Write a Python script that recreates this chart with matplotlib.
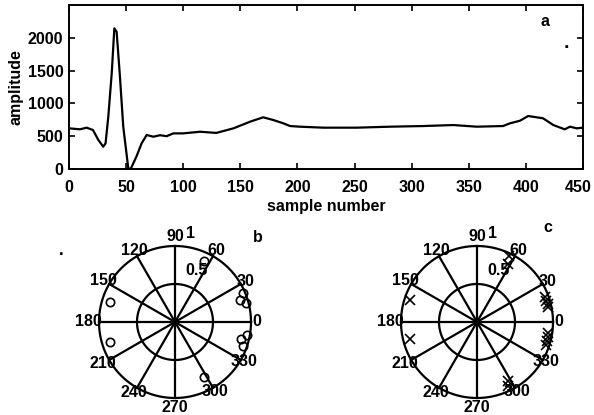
import numpy as np
import matplotlib
matplotlib.use("Agg")
import matplotlib.pyplot as plt
import matplotlib.transforms as mtransforms

plt.rcParams['font.family'] = ['Liberation Sans', 'DejaVu Sans']

# ---- data: signal (panel a) ----
sample = [0, 9.6, 15.5, 21, 25.7, 30, 32, 34.4, 37.4, 39.7, 41.7, 44.6, 47.5, 51.9, 54,
          59, 63.6, 68, 73.8, 79.7, 85.5, 91.3, 100, 114.7, 129, 144, 158.5, 170, 178.8,
          187.7, 193.5, 202, 222.6, 251.9, 281, 310, 336.5, 357, 380, 386, 394.8, 402,
          415, 424, 434, 438.6, 444.5, 449.7]
amplitude = [620, 605, 630, 594, 442, 340, 390, 797, 1458, 2144, 2092, 1407, 645, 10, 0,
             188, 392, 518, 492, 515, 500, 543, 543, 568, 550, 620, 721, 788, 747,
             696, 655, 645, 630, 630, 645, 655, 670, 645, 655, 696, 736, 808,
             773, 670, 605, 645, 620, 630]

x_ticks = [0, 50, 100, 150, 200, 250, 300, 350, 400, 450]
y_ticks = [0, 500, 1000, 1500, 2000]

# ---- data: polar panels ----
b_angle_deg = [65, 23, 19, 15, -10, -14, -19, -62, 163, 197]
b_radius = [0.89, 0.97, 0.90, 0.97, 0.96, 0.90, 0.95, 0.82, 0.89, 0.89]

c_angle_deg = [62, 64, 20, 17, 14, 12, -9, -12, -15, -18, -62, -64, 162, 194]
c_radius = [0.87, 0.96, 0.95, 0.95, 0.96, 0.95, 0.95, 0.96, 0.95, 0.96, 0.88, 0.93, 0.93, 0.91]

spoke_angles = [0, 30, 60, 90, 120, 150, 180, 210, 240, 270, 300, 330]
ring_radii = [0.5, 1.0]
angle_labels = ['0', '30', '60', '90', '120', '150', '180', '210', '240', '270', '300', '330']
label_radius = [1.07, 1.07, 1.09, 1.12, 1.08, 1.09, 1.14, 1.10, 1.07, 1.13, 1.06, 1.05]

fig = plt.figure(figsize=(5.94, 4.15), dpi=100)

FS = 11.5
FW = 'bold'
LW = 1.6

# ---- panel a ----
ax = fig.add_axes([69/594, 1-169/415, 514/594, 164/415])
ax.plot(sample, amplitude, color='black', lw=LW)
ax.set_xlim(0, 450)
ax.set_ylim(0, 2500)
ax.set_xticks(x_ticks)
ax.set_yticks(y_ticks)
ax.tick_params(direction='in', top=True, right=True, length=4, width=1.2, labelsize=FS)
ax.tick_params(axis='x', pad=8)
ax.tick_params(axis='y', pad=4)
for lab in ax.get_xticklabels() + ax.get_yticklabels():
    lab.set_fontweight(FW)
# keep the last x tick label inside the figure edge
last = ax.get_xticklabels()[-1]
last.set_transform(last.get_transform() +
                   mtransforms.ScaledTranslation(-5/100, 0, fig.dpi_scale_trans))
for s in ax.spines.values():
    s.set_linewidth(1.4)
ax.set_xlabel('sample number', fontsize=FS, fontweight=FW, labelpad=3)
ax.set_ylabel('amplitude', fontsize=FS, fontweight=FW, labelpad=3)
fig.text(545/594, 1-22/415, 'a', fontsize=FS, fontweight=FW, ha='center', va='center')
fig.text(566/594, 1-44/415, '.', fontsize=14, ha='center', va='center', fontweight='bold')


def polar_panel(cx, angles, radii, marker, ms, letter, lx, ly):
    R = 76
    pax = fig.add_axes([(cx - R)/594, 1-(322 + R)/415, 2*R/594, 2*R/415], projection='polar')
    pax.set_ylim(0, 1)
    pax.grid(False)
    pax.set_xticks([])
    pax.set_yticks([])
    pax.spines['polar'].set_visible(False)
    pax.patch.set_alpha(0)
    th = np.linspace(0, 2*np.pi, 361)
    for rr in ring_radii:
        pax.plot(th, np.full_like(th, rr), color='black', lw=LW, clip_on=False)
    for a in spoke_angles:
        pax.plot([np.deg2rad(a)]*2, [0, 1], color='black', lw=LW, clip_on=False)
    for a, lab, lr in zip(spoke_angles, angle_labels, label_radius):
        pax.text(np.deg2rad(a), lr, lab, fontsize=FS, fontweight=FW,
                 ha='center', va='center', clip_on=False)
    pax.text(np.deg2rad(67), 0.74, '0.5', fontsize=FS, fontweight=FW, ha='center', va='center')
    pax.text(np.deg2rad(80), 1.18, '1', fontsize=FS, fontweight=FW, ha='center', va='center',
             clip_on=False)
    if marker == 'o':
        pax.plot(np.deg2rad(angles), radii, linestyle='none', marker='o', ms=ms,
                 mfc='none', mec='black', mew=1.2, clip_on=False)
    else:
        pax.plot(np.deg2rad(angles), radii, linestyle='none', marker='x', ms=ms,
                 color='black', mew=1.2, clip_on=False)
    fig.text(lx/594, 1-ly/415, letter, fontsize=FS, fontweight=FW, ha='center', va='center')


polar_panel(175, b_angle_deg, b_radius, 'o', 6, 'b', 258, 237)
polar_panel(477, c_angle_deg, c_radius, 'x', 7, 'c', 548, 227)
fig.text(61/594, 1-250/415, '.', fontsize=12, ha='center', va='center', fontweight='bold')

fig.savefig('out.png', dpi=100)
